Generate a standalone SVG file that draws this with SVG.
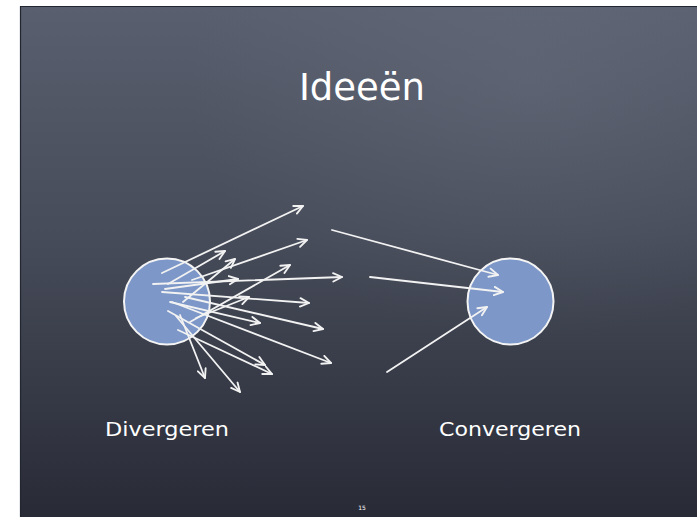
<svg xmlns="http://www.w3.org/2000/svg" width="697" height="517" viewBox="0 0 697 517">
<defs>
<linearGradient id="bg" x1="0" y1="0" x2="0" y2="1">
<stop offset="0" stop-color="#595f6e"/>
<stop offset="0.45" stop-color="#474c5a"/>
<stop offset="1" stop-color="#282b36"/>
</linearGradient>
<radialGradient id="glow" cx="0.75" cy="0.15" r="0.5">
<stop offset="0" stop-color="#7a8190" stop-opacity="0.25"/>
<stop offset="1" stop-color="#7a8190" stop-opacity="0"/>
</radialGradient>
<marker id="ah" viewBox="0 0 10 10" refX="9" refY="5" markerWidth="11" markerHeight="11" markerUnits="userSpaceOnUse" orient="auto">
<path d="M1,1.2 L9,5 L1,8.8" fill="none" stroke="#f2f2f2" stroke-width="1.7" stroke-linecap="round" stroke-linejoin="round"/>
</marker>
</defs>
<style>
.node{fill:#7c97c8;stroke:#f4f4f4;stroke-width:2}
.arr{stroke:#f2f2f2;stroke-width:1.8;fill:none;marker-end:url(#ah);stroke-linecap:round}
.t{fill:#ffffff;font-family:"DejaVu Sans","Liberation Sans",sans-serif}
</style>
<rect x="0" y="0" width="697" height="517" fill="#ffffff"/>
<rect x="20" y="6" width="677" height="511" fill="url(#bg)"/>
<rect x="20" y="6" width="677" height="511" fill="url(#glow)"/>
<path d="M20.5,517 L20.5,6.5 L697,6.5" fill="none" stroke="#222630" stroke-width="1.2"/>
<text class="t" x="362" y="100" font-size="37" text-anchor="middle">Ideeën</text>
<g id="divergeren">
<circle class="node" cx="167" cy="301.5" r="43"/>
<text class="t" x="105" y="436" font-size="20" textLength="124" lengthAdjust="spacingAndGlyphs">Divergeren</text>
</g>
<g id="convergeren">
<circle class="node" cx="510.5" cy="301.5" r="43"/>
<text class="t" x="439" y="436" font-size="20" textLength="142" lengthAdjust="spacingAndGlyphs">Convergeren</text>
</g>
<g id="connectors">
<line class="arr" x1="162" y1="273" x2="303" y2="206"/>
<line class="arr" x1="168" y1="284" x2="225" y2="251"/>
<line class="arr" x1="183" y1="302" x2="235" y2="259"/>
<line class="arr" x1="192" y1="280" x2="307" y2="240"/>
<line class="arr" x1="153" y1="284" x2="342" y2="277"/>
<line class="arr" x1="165" y1="289" x2="238" y2="279"/>
<line class="arr" x1="190" y1="322" x2="290" y2="265"/>
<line class="arr" x1="196" y1="318" x2="249" y2="297"/>
<line class="arr" x1="162" y1="292" x2="309" y2="303"/>
<line class="arr" x1="185" y1="297" x2="323" y2="329"/>
<line class="arr" x1="170" y1="302" x2="260" y2="323"/>
<line class="arr" x1="172" y1="302" x2="331" y2="363"/>
<line class="arr" x1="168" y1="311" x2="265" y2="365"/>
<line class="arr" x1="178" y1="330" x2="272" y2="374"/>
<line class="arr" x1="180" y1="315" x2="205" y2="378"/>
<line class="arr" x1="176" y1="316" x2="240" y2="392"/>
<line class="arr" x1="332" y1="230" x2="498" y2="275"/>
<line class="arr" x1="370" y1="277" x2="503" y2="292"/>
<line class="arr" x1="387" y1="372" x2="487" y2="307"/>
</g>
<text class="t" x="362" y="510" font-size="6" text-anchor="middle">15</text>
</svg>
